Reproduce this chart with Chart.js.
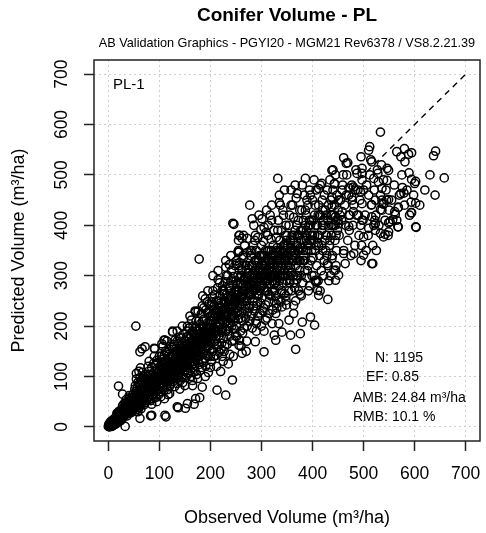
<!DOCTYPE html>
<html>
<head>
<meta charset="utf-8">
<script src="https://cdn.jsdelivr.net/npm/chart.js@4/dist/chart.umd.min.js"></script>
<style>
  body { margin: 0; background: #fff; }
  canvas { display: block; }
</style>
</head>
<body>
<canvas id="volChart" width="486" height="533"></canvas>
<script>
// observed vs predicted conifer volume (m3/ha)
const coreBand = [
  [1,2],[2,0],[3,4],[4,1],[5,6],[6,3],[7,9],[8,5],[9,12],[10,7],[11,4],[12,14],[13,10],[14,18],[15,11],[16,8],[17,20],[18,14],[19,24],[20,16],
  [21,12],[22,26],[23,19],[24,30],[25,21],[2,5],[4,8],[6,10],[8,2],[10,15],[12,6],[14,9],[16,22],[18,10],[20,28],[22,15],[24,12],[3,1],[5,3],[7,1],
  [9,8],[11,13],[13,5],[15,17],[17,13],[19,9],[21,20],[23,27],[25,14],[0,1],[1,5],[3,8],[5,11],[7,5],[9,3],[11,9],[13,16],[15,6],[17,27],[19,17],
  [21,31],[23,22],[25,33],
  [26,24],[27,30],[28,18],[29,36],[30,27],[31,22],[32,40],[33,29],[34,35],[35,25],[36,44],[37,31],[38,38],[39,28],[40,47],[41,36],[42,30],[43,52],[44,39],[45,33],
  [46,56],[47,42],[48,37],[49,60],[50,45],[26,34],[28,42],[30,20],[32,31],[34,46],[36,26],[38,50],[40,33],[42,58],[44,28],[46,40],[48,64],[50,35],[27,16],[29,26],
  [31,46],[33,38],[35,54],[37,22],[39,43],[41,62],[43,34],[45,48],[47,30],[49,52],
  [51,48],[52,62],[53,40],[54,70],[55,55],[56,44],[57,78],[58,60],[59,50],[60,84],[61,66],[62,46],[63,73],[64,58],[65,90],[66,62],[67,52],[68,80],[69,68],[70,56],
  [71,94],[72,72],[73,60],[74,86],[75,66],[52,75],[54,38],[56,66],[58,88],[60,42],[62,98],[64,48],[66,75],[68,100],[70,44],[72,62],[74,104],[51,57],[53,82],[55,34],
  [57,53],[59,70],[61,39],[63,88],[65,54],[67,108],[69,50],[71,78],[73,96],[75,52],[55,95],[60,110],[65,70],[70,86],[75,80],[58,30],[64,36],[72,48],
  [76,70],[77,92],[78,60],[79,110],[80,78],[81,64],[82,98],[83,84],[84,70],[85,118],[86,90],[87,74],[88,104],[89,82],[90,66],[91,122],[92,94],[93,78],[94,110],[95,86],
  [96,72],[97,128],[98,100],[99,84],[100,114],[77,56],[79,82],[81,104],[83,52],[85,96],[87,62],[89,126],[91,76],[93,58],[95,132],[97,92],[99,64],[76,100],[78,120],[80,54],
  [82,76],[84,90],[86,56],[88,70],[90,96],[92,60],[94,84],[96,116],[98,74],[100,92],[80,130],[90,140],[85,45],[95,50],[100,140],
  [101,80],[102,106],[103,122],[104,88],[105,134],[106,96],[107,78],[108,118],[109,104],[110,142],[111,90],[112,126],[113,110],[114,84],[115,148],[116,100],[117,130],[118,92],[119,116],[120,154],
  [121,104],[122,86],[123,138],[124,112],[125,96],[102,70],[104,140],[106,118],[108,82],[110,100],[112,150],[114,120],[116,74],[118,136],[120,92],[122,124],[124,158],[101,98],[103,60],[105,112],
  [107,160],[109,72],[111,130],[113,94],[115,108],[117,64],[119,144],[121,82],[123,100],[125,130],[105,165],[115,170],[120,66],[110,56],
  [126,116],[127,142],[128,100],[129,160],[130,124],[131,108],[132,150],[133,132],[134,96],[135,170],[136,118],[137,140],[138,104],[139,156],[140,128],[141,112],[142,176],[143,136],[144,100],[145,150],
  [146,122],[147,184],[148,140],[149,110],[150,160],[127,90],[129,130],[131,172],[133,114],[135,86],[137,124],[139,178],[141,92],[143,150],[145,116],[147,98],[149,170],[126,154],[128,164],[130,80],
  [132,118],[134,144],[136,100],[138,166],[140,146],[142,122],[144,162],[146,88],[148,128],[150,136],[135,190],[145,200],[140,75],[150,82],
  [151,120],[152,150],[153,178],[154,134],[155,106],[156,164],[157,142],[158,196],[159,126],[160,156],[161,112],[162,182],[163,140],[164,166],[165,124],[166,200],[167,152],[168,130],[169,178],[170,110],
  [171,160],[172,210],[173,144],[174,184],[175,132],[152,98],[154,190],[156,118],[158,160],[160,138],[162,100],[164,148],[166,172],[168,114],[170,196],[172,138],[174,160],[151,170],[153,128],[155,200],
  [157,108],[159,176],[161,144],[163,212],[165,92],[167,186],[169,122],[171,140],[173,104],[175,170],[160,220],[170,230],[165,82],[175,96],
  [176,150],[177,190],[178,124],[179,172],[180,204],[181,142],[182,224],[183,160],[184,130],[185,196],[186,176],[187,148],[188,214],[189,166],[190,136],[191,232],[192,186],[193,158],[194,206],[195,140],
  [196,176],[197,244],[198,196],[199,152],[200,220],[177,210],[179,140],[181,186],[183,118],[185,168],[187,236],[189,190],[191,120],[193,178],[195,226],[197,160],[199,184],[176,230],[178,166],[180,112],
  [182,154],[184,240],[186,128],[188,186],[190,254],[192,146],[194,170],[196,108],[198,230],[200,140],[185,260],[195,270],[190,100],[200,118],
  [201,166],[202,210],[203,248],[204,180],[205,150],[206,232],[207,196],[208,262],[209,170],[210,222],[211,142],[212,250],[213,188],[214,276],[215,160],[216,236],[217,204],[218,286],[219,176],[220,246],
  [221,154],[222,214],[223,270],[224,192],[225,232],[202,130],[204,258],[206,168],[208,216],[210,190],[212,120],[214,230],[216,180],[218,240],[220,204],[222,166],[224,280],[201,240],[203,190],[205,270],
  [207,140],[209,226],[211,200],[213,164],[215,292],[217,148],[219,260],[221,188],[223,140],[225,210],[205,300],[215,310],[220,110],[225,130],
  [226,176],[227,246],[228,206],[229,288],[230,190],[231,262],[232,222],[233,164],[234,300],[235,240],[236,200],[237,276],[238,180],[239,254],[240,218],[241,310],[242,236],[243,170],[244,282],[245,208],
  [246,264],[247,194],[248,320],[249,246],[250,226],[227,150],[229,220],[231,300],[233,240],[235,190],[237,322],[239,206],[241,260],[243,226],[245,298],[247,250],[249,180],[226,270],[228,160],[230,236],
  [232,192],[234,256],[236,280],[238,144],[240,290],[242,200],[244,248],[246,172],[248,268],[250,290],[230,330],[240,340],[245,140],[235,125],
  [251,200],[252,272],[253,236],[254,300],[255,214],[256,258],[257,326],[258,242],[259,190],[260,284],[261,226],[262,310],[263,258],[264,210],[265,336],[266,270],[267,234],[268,298],[269,216],[270,280],
  [271,250],[272,346],[273,228],[274,306],[275,262],[252,180],[254,250],[256,320],[258,284],[260,216],[262,244],[264,340],[266,196],[268,262],[270,310],[272,200],[274,280],[251,330],[253,262],[255,350],
  [257,172],[259,300],[261,260],[263,186],[265,292],[267,360],[269,240],[271,170],[273,286],[275,330],[255,370],[265,380],[260,160],[270,150],
  [276,236],[277,300],[278,262],[279,340],[280,220],[281,280],[282,320],[283,250],[284,360],[285,296],[286,230],[287,330],[288,272],[289,210],[290,350],[291,290],[292,248],[293,376],[294,310],[295,264],
  [296,340],[297,226],[298,300],[299,280],[300,360],[277,210],[279,280],[281,350],[283,304],[285,240],[287,370],[289,300],[291,262],[293,220],[295,330],[297,270],[299,392],[276,320],[278,350],[280,262],
  [282,196],[284,280],[286,310],[288,380],[290,240],[292,320],[294,260],[296,296],[298,246],[300,324],[285,400],[295,420],[290,190],[300,200],
  [301,256],[302,320],[303,290],[304,368],[305,276],[306,340],[307,306],[308,242],[309,386],[310,300],[311,332],[312,268],[313,400],[314,310],[315,350],[316,284],[317,324],[318,260],[319,372],[320,300],
  [321,342],[322,232],[323,316],[324,390],[325,282],[302,280],[304,236],[306,300],[308,350],[310,270],[312,380],[314,248],[316,330],[318,300],[320,410],[322,290],[324,340],[301,340],[303,230],[305,396],
  [307,270],[309,320],[311,216],[313,294],[315,262],[317,420],[319,336],[321,270],[323,360],[325,310],[310,430],[320,440],[315,225],[325,250],
  [326,270],[327,340],[328,306],[329,376],[330,290],[331,356],[332,320],[333,410],[334,280],[335,330],[336,370],[337,300],[338,248],[339,390],[340,316],[341,346],[342,286],[343,420],[344,330],[345,264],
  [346,362],[347,300],[348,400],[349,340],[350,290],[328,260],[330,330],[332,390],[334,250],[336,310],[338,350],[340,270],[342,430],[344,300],[346,330],[348,260],[350,380],[327,300],[329,244],[331,310],
  [333,340],[335,290],[337,440],[339,266],[341,300],[343,360],[345,310],[347,380],[349,242],[335,460],[345,470],[330,236],
  [351,300],[352,360],[353,330],[354,400],[355,286],[356,346],[357,316],[358,440],[359,270],[360,380],[361,330],[362,300],[363,416],[364,350],[365,276],[366,390],[367,320],[368,454],[369,292],[370,360],
  [371,330],[372,410],[373,270],[374,380],[375,310],[353,270],[355,420],[357,360],[359,306],[361,440],[363,286],[365,346],[367,250],[369,400],[371,300],[373,350],[375,430],[352,310],[356,292],[360,340],
  [364,380],[368,300],[372,350],[358,470],[366,480],
  [376,330],[377,390],[378,300],[379,430],[380,356],[381,286],[382,410],[383,340],[384,460],[385,310],[386,380],[387,350],[388,420],[389,296],[390,364],[391,440],[392,320],[393,400],[394,280],[395,370],
  [396,460],[397,330],[398,410],[399,300],[400,380],[378,260],[382,350],[386,430],[390,310],[394,470],[398,350],[380,480],[384,330],[388,370],[392,270],[396,400],[400,450],
  [401,336],[402,410],[403,300],[404,380],[405,440],[406,350],[407,470],[408,320],[409,400],[410,366],[411,290],[412,440],[413,380],[414,340],[415,480],[416,420],[417,310],[418,390],[419,450],[420,350],
  [421,410],[422,300],[423,460],[424,370],[425,430],[403,490],[407,360],[411,420],[415,270],[419,400],[423,330],
  [426,350],[427,420],[428,380],[429,470],[430,320],[431,440],[432,400],[433,360],[434,490],[435,300],[436,450],[437,380],[438,420],[439,340],[440,470],[441,400],[442,310],[443,440],[444,370],[445,500],
  [446,410],[447,350],[448,460],[449,390],[450,430],[432,290],[440,510],[446,320],
  [452,380],[455,450],[457,410],[459,480],[461,350],[463,440],[465,400],[467,500],[469,370],[471,460],[473,420],[475,340],[477,480],[479,400],[481,440],[483,360],[485,510],[487,420],[489,470],[491,380],
  [493,450],[495,330],[497,490],[499,410],[454,420],[460,500],[466,460],[472,390],[478,450],[484,470],[490,420],[496,360],[500,470],
  [503,420],[506,480],[509,380],[512,500],[515,440],[518,360],[521,470],[524,420],[527,510],[530,400],[533,460],[536,430],[539,490],[542,410],[545,450],[548,380],[505,350],[514,530],[525,350],[535,520],
  [544,470],[550,430],[555,450],[560,480],[565,410],[570,460],[575,500],[580,440],[585,470],[590,420],[598,460],[610,440],[620,470],[630,500],[640,460]
];

// the solid black middle of the band
const denseCore = [
  [82,88],[86,80],[90,100],[94,92],[98,108],[84,72],[88,94],[92,84],[96,98],[100,104],
  [104,100],[108,110],[112,104],[116,118],[120,112],[124,126],[128,118],[132,134],[136,128],[140,140],[144,132],[148,148],[102,118],[106,86],[110,124],[114,98],[118,108],[122,140],[126,104],[130,146],
  [134,120],[138,112],[142,150],[146,136],[150,120],[103,92],[107,128],[111,116],[115,92],[119,130],[123,118],[127,130],[131,98],[135,150],[139,136],[143,120],[147,160],[149,146],
  [152,140],[156,150],[160,146],[164,160],[168,156],[172,170],[176,164],[180,178],[184,172],[188,190],[192,176],[196,196],[200,186],[154,162],[158,132],[162,170],[166,140],[170,180],[174,150],[178,196],
  [182,166],[186,200],[190,160],[194,188],[198,170],[153,152],[157,180],[161,128],[165,190],[169,146],[173,198],[177,176],[181,150],[185,210],[189,178],[193,200],[197,182],[199,210],
  [202,196],[206,210],[210,204],[214,220],[218,206],[222,230],[226,222],[230,244],[234,228],[238,250],[242,240],[246,230],[250,256],[204,220],[208,190],[212,232],[216,198],[220,238],[224,210],[228,250],
  [232,210],[236,236],[240,260],[244,220],[248,244],[203,176],[207,240],[211,180],[215,250],[219,220],[223,196],[227,264],[231,232],[235,206],[239,270],[243,244],[247,216],[249,270],
  [252,250],[256,270],[260,256],[264,280],[268,270],[272,290],[276,276],[280,300],[284,290],[288,310],[292,296],[296,316],[300,300],[254,230],[258,296],[262,270],[266,290],[270,250],[274,314],[278,286],
  [282,268],[286,300],[290,276],[294,330],[298,286],[253,284],[257,240],[261,300],[265,254],[269,320],[273,266],[277,240],[281,320],[285,270],[289,330],[293,290],[297,310],[299,340],
  [302,300],[306,320],[310,310],[314,330],[318,316],[322,340],[326,320],[330,350],[334,336],[338,320],[342,346],[346,340],[350,360],[304,340],[308,290],[312,350],[316,300],[320,326],[324,300],[328,340],
  [332,300],[336,346],[340,330],[344,360],[348,320],[303,310],[307,330],[311,290],[315,316],[319,350],[323,330],[327,286],[331,330],[335,350],[339,330],[343,300],[347,350],[349,370],
  [352,340],[356,370],[360,350],[364,330],[368,360],[372,380],[376,356],[380,390],[384,370],[388,390],[392,360],[396,380],[354,320],[358,350],[362,370],[366,340],[370,380],[374,330],[378,370],[382,330],
  [386,400],[390,350],[394,410],[398,370],
  [402,370],[406,400],[410,380],[414,420],[418,360],[422,400],[426,380],[430,410],[434,370],[438,400],[442,420],[446,380],[450,410],[404,420],[412,360],[420,430],[428,340],[436,420],[444,400]
];

// scattered points away from the main band
const edgePoints = [
  [533,585],[512,556],[510,549],[461,534],[495,536],[469,524],[438,509],[565,546],[580,552],[573,536],[588,541],[594,544],[581,526],[641,547],[637,538],[658,494],
  [589,504],[594,491],[600,483],[602,487],[576,475],[573,463],[579,464],[593,446],[602,444],[593,425],[568,436],[562,422],[557,411],[602,397],[549,509],[546,513],
  [528,503],[516,526],[497,513],[497,503],[487,503],[520,493],[529,486],[536,473],[546,489],[443,482],[458,470],[471,474],[480,476],[494,466],[510,460],[523,450],
  [536,450],[549,451],[438,456],[451,450],[477,456],[497,443],[516,441],[533,431],[539,442],[438,437],[458,427],[471,420],[480,427],[445,417],[516,417],[497,410],
  [523,403],[549,405],[494,400],[471,398],[451,403],[568,397],
  [603,396],[594,425],[567,397],[568,435],[561,427],[552,407],[549,387],[539,377],[542,382],[533,384],[518,324],[520,400],[522,410],[510,394],[536,443],
  [367,154],[430,253],[412,261],[410,271],[406,288],[376,263],[404,202],[396,218],[380,208],[376,185],[357,182],[328,172],[325,182],[340,188],[354,212],[363,225],
  [328,225],[340,238],[348,251],[363,241],[321,205],[334,205],[445,291],
  [332,493],[386,493],[277,440],[244,404],[282,413],[301,413],[335,445],[370,463],[389,450],[412,473],[418,483],[443,483],[466,523],[256,380],[272,374],[256,347],
  [251,324],[406,291],[408,288],[445,311],[451,301],[464,324],[481,344],[500,341],[516,324],[500,377],[523,390],[461,344],[438,334],[429,324],
  [178,333],[246,402],[257,380],[262,374],[254,347],[230,317],[126,190],[109,172],[90,156],[171,228],[194,248],[288,169],[305,149],[308,212],[305,190],[290,205],
  [256,162],[262,146],
  [54,200],[62,149],[66,155],[72,159],[91,155],[111,172],[126,188],[20,81],[28,65],[55,106],[63,117],[85,23],[111,23],[137,38],[151,37],[168,45],[179,58],[33,1],[62,17],
  [113,20],[83,22],[135,40],[155,46],[171,56],[230,63],[213,73],[184,79],[243,93]
];

const xTicks = [0, 100, 200, 300, 400, 500, 600, 700];
const yTicks = [0, 100, 200, 300, 400, 500, 600, 700];
const oneToOne = [0, 700];
const statLines = ['N: 1195', 'EF: 0.85', 'AMB: 24.84 m\u00b3/ha', 'RMB: 10.1 %'];

const FONT = '"Liberation Sans", Arial, Helvetica, sans-serif';

const allPoints = coreBand.concat(denseCore, edgePoints).map(p => ({ x: p[0], y: p[1] }));

// text, box and tick labels drawn R-style
const rDecor = {
  id: 'rDecor',
  afterDraw(chart) {
    const ctx = chart.ctx;
    const a = chart.chartArea;
    const xs = chart.scales.x, ys = chart.scales.y;
    ctx.save();
    ctx.strokeStyle = '#222';
    ctx.lineWidth = 1.5;
    ctx.strokeRect(a.left, a.top, a.right - a.left, a.bottom - a.top);

    ctx.fillStyle = '#000';
    ctx.textAlign = 'center';
    ctx.textBaseline = 'middle';
    const mid = (a.left + a.right) / 2;

    ctx.font = 'bold 19px ' + FONT;
    ctx.fillText('Conifer Volume - PL', mid, 16);
    ctx.font = '12.7px ' + FONT;
    ctx.fillText('AB Validation Graphics - PGYI20 - MGM21 Rev6378 / VS8.2.21.39', mid, 43);

    ctx.font = '17.5px ' + FONT;
    xTicks.forEach(v => ctx.fillText(String(v), xs.getPixelForValue(v), 474));
    yTicks.forEach(v => {
      ctx.save();
      ctx.translate(62, ys.getPixelForValue(v));
      ctx.rotate(-Math.PI / 2);
      ctx.fillText(String(v), 0, 0);
      ctx.restore();
    });

    ctx.font = '18px ' + FONT;
    ctx.fillText('Observed Volume (m\u00b3/ha)', mid, 518);
    ctx.save();
    ctx.translate(19, (a.top + a.bottom) / 2);
    ctx.rotate(-Math.PI / 2);
    ctx.fillText('Predicted Volume (m\u00b3/ha)', 0, 0);
    ctx.restore();

    ctx.textAlign = 'left';
    ctx.font = '15px ' + FONT;
    ctx.fillText('PL-1', 113, 85);
    ctx.font = '14px ' + FONT;
    const sx = [375, 366, 353, 353];
    const sy = [358, 377.5, 398, 417];
    statLines.forEach((t, i) => ctx.fillText(t, sx[i], sy[i]));
    ctx.restore();
  }
};

const axisCommon = {
  type: 'linear',
  min: -28,
  max: 728,
  afterBuildTicks: s => { s.ticks = xTicks.map(v => ({ value: v })); },
  ticks: { display: false },
  grid: {
    color: '#cfcfcf',
    lineWidth: 1,
    drawTicks: true,
    tickLength: 10,
    tickColor: '#222',
    tickWidth: 1.5
  },
  border: { display: false, dash: [2, 3] }
};

new Chart(document.getElementById('volChart').getContext('2d'), {
  type: 'scatter',
  data: {
    datasets: [
      {
        type: 'line',
        data: oneToOne.map(v => ({ x: v, y: v })),
        borderColor: '#000',
        borderWidth: 1.4,
        borderDash: [6, 5],
        pointRadius: 0,
        fill: false
      },
      {
        data: allPoints,
        pointStyle: 'circle',
        pointRadius: 4.1,
        pointBorderWidth: 1.5,
        pointBorderColor: '#000',
        pointBackgroundColor: 'rgba(0,0,0,0)',
        borderColor: '#000',
        backgroundColor: 'rgba(0,0,0,0)'
      }
    ]
  },
  options: {
    responsive: false,
    animation: false,
    devicePixelRatio: 1,
    layout: { padding: { top: 60, right: 6, left: 0, bottom: 0 } },
    plugins: { legend: { display: false }, tooltip: { enabled: false }, title: { display: false } },
    scales: {
      x: Object.assign({}, axisCommon, { position: 'bottom', afterFit: s => { s.height = 92; } }),
      y: Object.assign({}, axisCommon, { position: 'left', afterFit: s => { s.width = 94; } })
    }
  },
  plugins: [rDecor]
});
</script>
</body>
</html>
